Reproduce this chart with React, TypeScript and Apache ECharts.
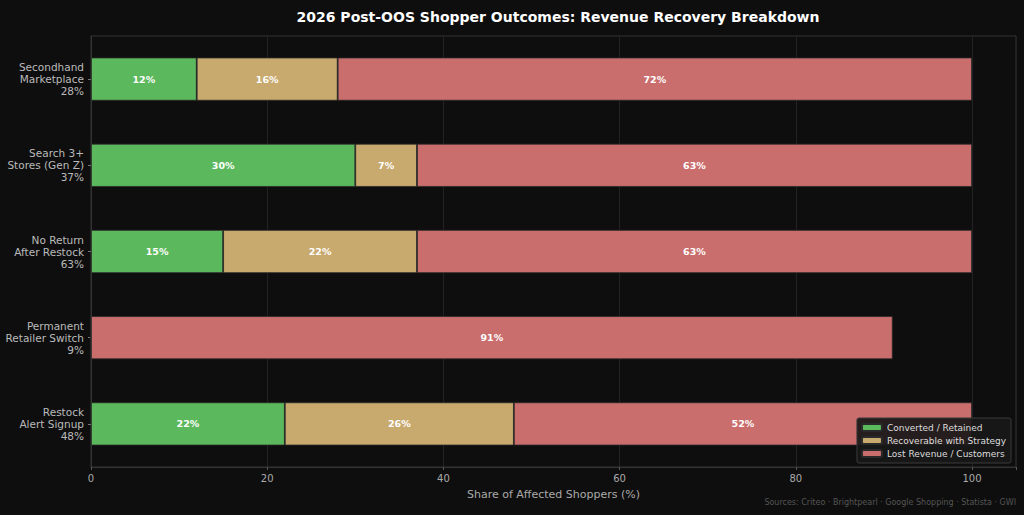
import React, { useEffect, useRef } from "react";
import * as echarts from "echarts";

const categories = [
  "Secondhand\nMarketplace\n28%",
  "Search 3+\nStores (Gen Z)\n37%",
  "No Return\nAfter Restock\n63%",
  "Permanent\nRetailer Switch\n9%",
  "Restock\nAlert Signup\n48%",
];
const converted = [12, 30, 15, 0, 22];
const recoverable = [16, 7, 22, 0, 26];
const lost = [72, 63, 63, 91, 52];
const seriesNames = ["Converted / Retained", "Recoverable with Strategy", "Lost Revenue / Customers"];
const colors = ["#5cb85c", "#c8a96e", "#c96d6d"];
const xTicks = [0, 20, 40, 60, 80, 100];

const FONT = "DejaVu Sans";

export default function App() {
  const ref = useRef<HTMLDivElement>(null);
  useEffect(() => {
    if (!ref.current) return;
    const chart = echarts.init(ref.current, undefined, { renderer: "svg" });
    const mk = (name: string, data: number[], color: string) => ({
      name,
      type: "bar",
      stack: "total",
      barWidth: "50%",
      data: data.map((v) => ({ value: v, label: { show: v > 0 } })),
      itemStyle: { color, borderColor: "#2a2a2a", borderWidth: 0.8 },
      label: {
        show: true,
        position: "inside",
        formatter: (p: any) => `${p.value}%`,
        color: "#ffffff",
        fontWeight: "bold",
        fontSize: 9.5,
        fontFamily: FONT,
      },
    });
    chart.setOption({
      animation: false,
      backgroundColor: "#0e0e0e",
      textStyle: { fontFamily: FONT },
      title: {
        text: "2026 Post-OOS Shopper Outcomes: Revenue Recovery Breakdown",
        left: 553,
        textAlign: "center",
        top: 5,
        textStyle: { color: "#ffffff", fontSize: 14, fontWeight: "bold", fontFamily: FONT },
      },
      graphic: [
        {
          type: "text",
          right: 8,
          top: 498,
          style: {
            text: "Sources: Criteo · Brightpearl · Google Shopping · Statista · GWI",
            fill: "#555555",
            fontSize: 8,
            fontFamily: FONT,
          },
        },
      ],
      legend: {
        orient: "vertical",
        right: 13,
        bottom: 52,
        itemWidth: 20,
        itemHeight: 7,
        itemGap: 4,
        padding: [5, 5, 5, 4],
        backgroundColor: "rgba(24,24,24,0.92)",
        borderColor: "#3a3a3a",
        borderWidth: 1,
        borderRadius: 2,
        textStyle: { color: "#dddddd", fontSize: 9, fontFamily: FONT },
        data: seriesNames,
      },
      grid: {
        left: 91,
        right: 8,
        top: 36,
        bottom: 48,
        show: true,
        borderColor: "#333333",
        borderWidth: 1,
        containLabel: false,
      },
      xAxis: {
        type: "value",
        min: 0,
        max: 105,
        interval: 20,
        name: "Share of Affected Shoppers (%)",
        nameLocation: "middle",
        nameGap: 22,
        nameTextStyle: { color: "#aaaaaa", fontSize: 11, fontFamily: FONT },
        axisLine: { show: true, lineStyle: { color: "#333333" } },
        axisTick: { show: true, length: 3, lineStyle: { color: "#555555" } },
        axisLabel: {
          color: "#aaaaaa",
          fontSize: 10,
          margin: 6,
          fontFamily: FONT,
          formatter: (v: number) => (xTicks.includes(v) ? String(v) : ""),
        },
        splitLine: { show: true, lineStyle: { color: "#222222", width: 1 } },
      },
      yAxis: {
        type: "category",
        inverse: true,
        data: categories,
        axisLine: { show: true, lineStyle: { color: "#333333" } },
        axisTick: { show: true, length: 3, alignWithLabel: true, lineStyle: { color: "#777777" } },
        axisLabel: {
          color: "#bbbbbb",
          fontSize: 10.5,
          lineHeight: 12,
          margin: 7,
          align: "right",
          fontFamily: FONT,
        },
        splitLine: { show: false },
      },
      series: [
        mk(seriesNames[0], converted, colors[0]),
        mk(seriesNames[1], recoverable, colors[1]),
        mk(seriesNames[2], lost, colors[2]),
      ],
    });
    return () => chart.dispose();
  }, []);
  return <div ref={ref} style={{ width: 1024, height: 515, position: "absolute", left: 0, top: 0 }} />;
}
